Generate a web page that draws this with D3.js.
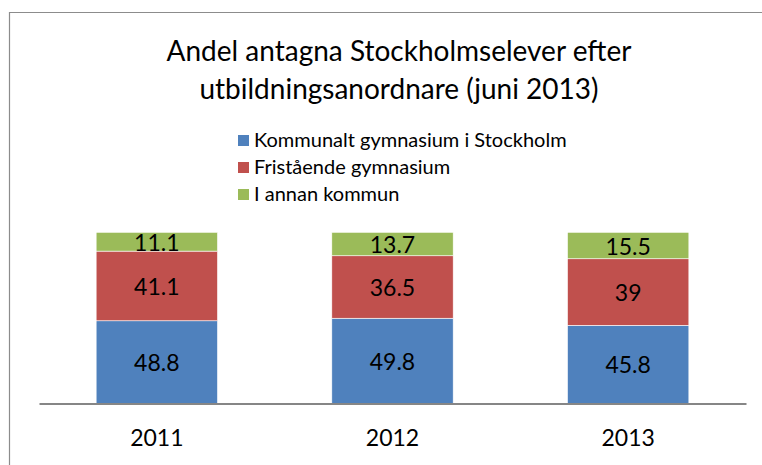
<!DOCTYPE html>
<meta charset="utf-8">
<style>
body { margin: 0; background: #fff; }
svg { display: block; font-family: Lato, "Open Sans", sans-serif; }
.bars rect { stroke: #fff; stroke-width: 0.6; }
</style>
<svg width="762" height="465"></svg>
<script src="https://cdnjs.cloudflare.com/ajax/libs/d3/7.8.5/d3.min.js"></script>
<script>

var years = ["2011", "2012", "2013"];
var seriesNames = ["Kommunalt gymnasium i Stockholm", "Fristående gymnasium", "I annan kommun"];
var kommunalt = [48.8, 49.8, 45.8];
var fristaende = [41.1, 36.5, 39];
var annan = [11.1, 13.7, 15.5];
var colors = ["#4f81bd", "#c0504d", "#9bbb59"];

var svg = d3.select("svg");

// chart frame (cut off on the right and bottom)
svg.append("path")
	.attr("d", "M9.5,470 V12.5 H770")
	.attr("fill", "none")
	.attr("stroke", "#8c8c8c")
	.attr("stroke-width", 1.2);

var title = svg.append("text")
	.attr("text-anchor", "middle")
	.attr("font-size", 28)
	.attr("fill", "#000");
title.append("tspan").attr("x", 399).attr("y", 61).text("Andel antagna Stockholmselever efter");
title.append("tspan").attr("x", 399).attr("y", 99).text("utbildningsanordnare (juni 2013)");

var rows = years.map(function(y, i) {
	return {year: y, k: kommunalt[i], f: fristaende[i], a: annan[i]};
});
// 100% stacked: each column is scaled to its own total
var stack = d3.stack().keys(["k", "f", "a"]).offset(d3.stackOffsetExpand)(rows);

var x = d3.scaleBand().domain(years).range([39, 746]).paddingInner(0.485).paddingOuter(0.2425);
var y = d3.scaleLinear().domain([0, 1]).range([403.5, 232.3]);

var g = svg.append("g").attr("class", "bars");
stack.forEach(function(layer, li) {
	g.selectAll(null)
		.data(layer)
		.enter().append("rect")
			.attr("x", function(d) { return x(d.data.year); })
			.attr("width", x.bandwidth())
			.attr("y", function(d) { return y(d[1]); })
			.attr("height", function(d) { return y(d[0]) - y(d[1]); })
			.attr("fill", colors[li]);
});

stack.forEach(function(layer) {
	var key = layer.key;
	svg.append("g").selectAll("text")
		.data(layer)
		.enter().append("text")
			.attr("x", function(d) { return x(d.data.year) + x.bandwidth() / 2; })
			.attr("y", function(d) { return (y(d[0]) + y(d[1])) / 2 + 9; })
			.attr("text-anchor", "middle")
			.attr("font-size", 23)
			.text(function(d) { return String(d.data[key]); });
});

var xAxis = svg.append("g")
	.attr("transform", "translate(0,403.5)")
	.call(d3.axisBottom(x).tickSize(0).tickPadding(26));
xAxis.select(".domain").attr("stroke", "#868686").attr("stroke-width", 2);
xAxis.selectAll("text").attr("font-size", 23).attr("font-family", "Lato, sans-serif").attr("fill", "#000");

var legend = svg.append("g").selectAll("g")
	.data(seriesNames)
	.enter().append("g")
		.attr("transform", function(d, i) { return "translate(238," + (135 + i * 27) + ")"; });
legend.append("rect").attr("width", 11).attr("height", 11).attr("fill", function(d, i) { return colors[i]; });
legend.append("text").attr("x", 16).attr("y", 12).attr("font-size", 20).text(function(d) { return d; });

</script>
